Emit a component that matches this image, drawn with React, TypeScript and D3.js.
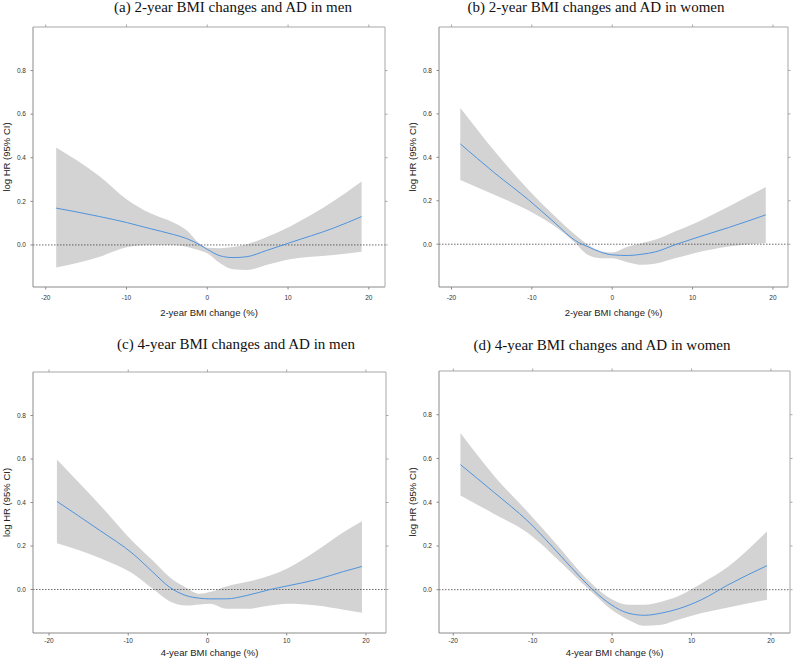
import React, { useEffect, useRef } from 'react'
import * as d3 from 'd3'

// x grid (BMI change %) and estimates for each panel
const xA = [-18.7, -13.3, -10, -7.1, -4.2, -2.6, -0.9, 0, 1.6, 3.2, 4.9, 7.3, 10.2, 15.6, 19.1]
const fitA = [0.169, 0.13, 0.103, 0.075, 0.048, 0.03, 0.0, -0.02, -0.05, -0.058, -0.054, -0.026, 0.01, 0.077, 0.13]
const upA = [0.447, 0.314, 0.21, 0.146, 0.103, 0.069, 0.005, -0.013, -0.015, -0.01, 0.003, 0.035, 0.084, 0.2, 0.291]
const loA = [-0.104, -0.054, -0.011, 0.0, 0.0, -0.008, -0.026, -0.038, -0.084, -0.112, -0.115, -0.092, -0.066, -0.046, -0.031]

const xB = [-18.9, -14.6, -10.4, -7.1, -4.6, -3.0, -1.3, 0, 2, 3.7, 5.3, 7.8, 10.3, 14.5, 19.1]
const fitB = [0.462, 0.327, 0.204, 0.097, 0.017, -0.012, -0.038, -0.049, -0.052, -0.046, -0.036, -0.003, 0.028, 0.077, 0.135]
const upB = [0.627, 0.427, 0.25, 0.127, 0.043, -0.003, -0.034, -0.038, -0.011, 0.005, 0.02, 0.058, 0.097, 0.174, 0.263]
const loB = [0.296, 0.227, 0.155, 0.081, 0.005, -0.05, -0.065, -0.065, -0.084, -0.095, -0.09, -0.065, -0.041, -0.011, 0.005]

const xC = [-19.0, -13.6, -9.4, -6.9, -4.8, -2.7, -1.0, 0.3, 2.4, 4.9, 7.9, 10, 13.8, 17.2, 19.5]
const fitC = [0.405, 0.272, 0.164, 0.08, 0.011, -0.028, -0.04, -0.043, -0.043, -0.028, 0.0, 0.016, 0.046, 0.083, 0.106]
const upC = [0.598, 0.39, 0.22, 0.133, 0.057, 0.008, -0.02, -0.012, 0.014, 0.034, 0.064, 0.095, 0.179, 0.264, 0.314]
const loC = [0.213, 0.145, 0.072, 0.003, -0.054, -0.074, -0.069, -0.066, -0.089, -0.089, -0.074, -0.066, -0.074, -0.093, -0.107]

const xD = [-19.1, -14.8, -10.6, -6.4, -3.9, -2.2, -0.1, 2, 4.1, 6.2, 8.3, 11.3, 14.6, 19.5]
const fitD = [0.572, 0.443, 0.313, 0.152, 0.053, -0.008, -0.069, -0.107, -0.117, -0.107, -0.088, -0.045, 0.022, 0.11]
const upD = [0.716, 0.518, 0.354, 0.183, 0.076, 0.015, -0.043, -0.069, -0.069, -0.055, -0.03, 0.03, 0.105, 0.267]
const loD = [0.431, 0.345, 0.259, 0.122, 0.034, -0.023, -0.091, -0.137, -0.165, -0.16, -0.137, -0.107, -0.081, -0.046]

const titles = [
  '(a) 2-year BMI changes and AD in men',
  '(b) 2-year BMI changes and AD in women',
  '(c) 4-year BMI changes and AD in men',
  '(d) 4-year BMI changes and AD in women',
]
const xLabels = ['2-year BMI change (%)', '2-year BMI change (%)', '4-year BMI change (%)', '4-year BMI change (%)']
const yLabel = 'log HR (95% CI)'
const xTicks = [-20, -10, 0, 10, 20]
const yTicks = [0.0, 0.2, 0.4, 0.6, 0.8]

const series = [
  { x: xA, fit: fitA, up: upA, lo: loA },
  { x: xB, fit: fitB, up: upB, lo: loB },
  { x: xC, fit: fitC, up: upC, lo: loC },
  { x: xD, fit: fitD, up: upD, lo: loD },
]

const frames = [
  { l: 33, r: 385, t: 27, b: 287, xd: [-21.57, 22.0], yd: [-0.193, 1.0], tx: 233, ty: 15, tk: 13, lb: 29 },
  { l: 439, r: 788, t: 27, b: 287, xd: [-21.55, 21.87], yd: [-0.197, 1.0], tx: 596, ty: 15, tk: 13, lb: 29 },
  { l: 33, r: 386, t: 372, b: 633, xd: [-22.02, 22.53], yd: [-0.2, 1.0], tx: 236, ty: 352, tk: 10, lb: 23 },
  { l: 439, r: 790, t: 371, b: 633, xd: [-21.8, 22.4], yd: [-0.198, 1.0], tx: 602, ty: 353, tk: 10, lb: 23 },
]

const sans = "'Liberation Sans', Arial, sans-serif"

export default function App() {
  const ref = useRef<SVGSVGElement | null>(null)

  useEffect(() => {
    if (!ref.current) return
    const svg = d3.select(ref.current)
    svg.selectAll('*').remove()

    frames.forEach((f, i) => {
      const s = series[i]
      const x = d3.scaleLinear().domain(f.xd).range([f.l, f.r])
      const y = d3.scaleLinear().domain(f.yd).range([f.b, f.t])
      const g = svg.append('g')
      const pts = s.x.map((v, k) => ({ x: v, fit: s.fit[k], up: s.up[k], lo: s.lo[k] }))

      // CI band
      g.append('path')
        .datum(pts)
        .attr('fill', '#d3d3d3')
        .attr(
          'd',
          d3
            .area<any>()
            .curve(d3.curveMonotoneX)
            .x((d) => x(d.x))
            .y0((d) => y(d.lo))
            .y1((d) => y(d.up)),
        )

      // reference line at 0
      g.append('line')
        .attr('x1', f.l)
        .attr('x2', f.r)
        .attr('y1', y(0))
        .attr('y2', y(0))
        .attr('stroke', '#444')
        .attr('stroke-width', 0.8)
        .attr('stroke-dasharray', '1.5,1.5')

      // fitted curve
      g.append('path')
        .datum(pts)
        .attr('fill', 'none')
        .attr('stroke', '#4f93de')
        .attr('stroke-width', 1)
        .attr(
          'd',
          d3
            .line<any>()
            .curve(d3.curveMonotoneX)
            .x((d) => x(d.x))
            .y((d) => y(d.fit)),
        )

      // frame
      const frameColor = '#8a8a8a'
      g.append('line').attr('x1', f.l).attr('x2', f.l).attr('y1', f.t).attr('y2', f.b).attr('stroke', frameColor)
      g.append('line').attr('x1', f.l).attr('x2', f.r).attr('y1', f.b).attr('y2', f.b).attr('stroke', frameColor)
      g.append('line').attr('x1', f.l).attr('x2', f.r).attr('y1', f.t).attr('y2', f.t).attr('stroke', '#a8a8a8')
      g.append('line').attr('x1', f.r).attr('x2', f.r).attr('y1', f.t).attr('y2', f.b).attr('stroke', '#a8a8a8')

      // ticks
      xTicks.forEach((t) => {
        const px = x(t)
        g.append('line').attr('x1', px).attr('x2', px).attr('y1', f.b).attr('y2', f.b + 2.5).attr('stroke', frameColor)
        g.append('line').attr('x1', px).attr('x2', px).attr('y1', f.t).attr('y2', f.t - 2.5).attr('stroke', '#a8a8a8')
        g.append('text')
          .attr('x', px)
          .attr('y', f.b + f.tk)
          .attr('text-anchor', 'middle')
          .attr('font-family', sans)
          .attr('font-size', 6.5)
          .attr('fill', '#333')
          .text(t)
      })
      yTicks.forEach((t) => {
        const py = y(t)
        g.append('line').attr('x1', f.l).attr('x2', f.l - 2.5).attr('y1', py).attr('y2', py).attr('stroke', frameColor)
        g.append('line').attr('x1', f.r).attr('x2', f.r + 2.5).attr('y1', py).attr('y2', py).attr('stroke', '#a8a8a8')
        g.append('text')
          .attr('x', f.l - 7)
          .attr('y', py + 2.3)
          .attr('text-anchor', 'end')
          .attr('font-family', sans)
          .attr('font-size', 6.5)
          .attr('fill', '#333')
          .text(t.toFixed(1))
      })

      // axis labels
      g.append('text')
        .attr('x', (f.l + f.r) / 2)
        .attr('y', f.b + f.lb)
        .attr('text-anchor', 'middle')
        .attr('font-family', sans)
        .attr('font-size', 9.5)
        .attr('fill', '#222')
        .text(xLabels[i])
      const ly = (f.t + f.b) / 2
      g.append('text')
        .attr('transform', `translate(${f.l - 23},${ly}) rotate(-90)`)
        .attr('text-anchor', 'middle')
        .attr('font-family', sans)
        .attr('font-size', 9.5)
        .attr('fill', '#222')
        .text(yLabel)

      // title
      g.append('text')
        .attr('x', f.tx)
        .attr('y', f.ty - 3)
        .attr('text-anchor', 'middle')
        .attr('font-family', "'Liberation Serif', 'Times New Roman', serif")
        .attr('font-size', 15)
        .attr('fill', '#111')
        .text(titles[i])
    })

    return () => {
      svg.selectAll('*').remove()
    }
  }, [])

  return (
    <svg
      ref={ref}
      width={793}
      height={662}
      style={{ display: 'block', position: 'absolute', left: 0, top: 0, background: '#fff' }}
    />
  )
}
